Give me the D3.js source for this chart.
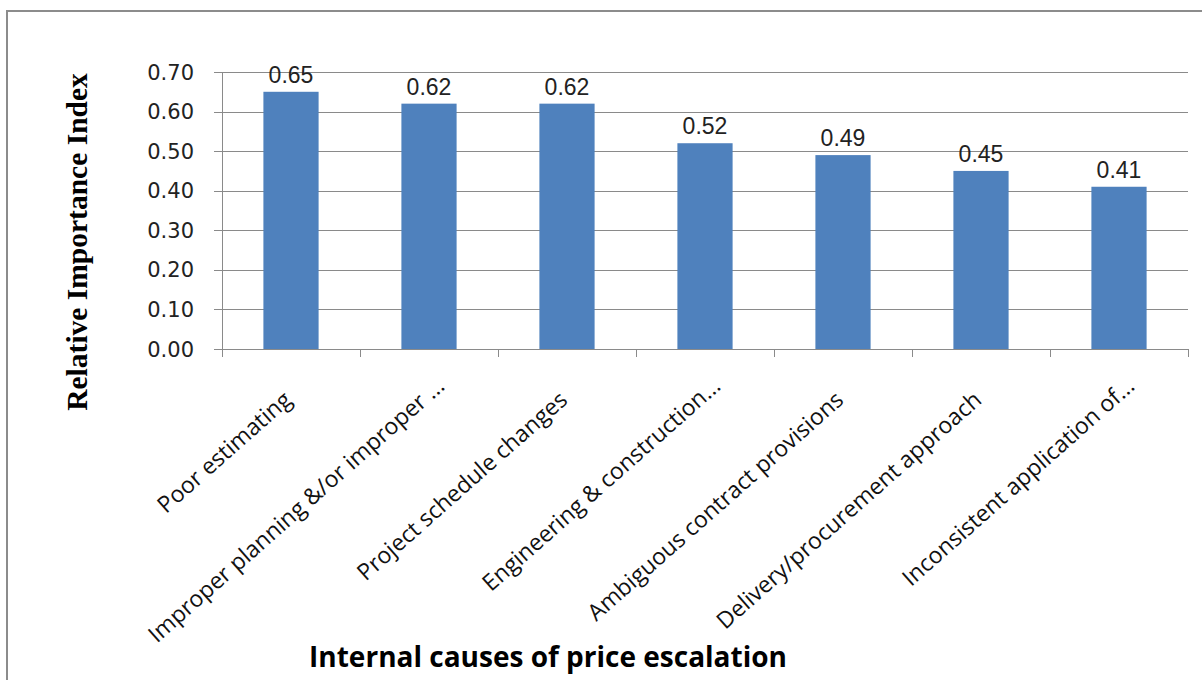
<!DOCTYPE html>
<html>
<head>
<meta charset="utf-8">
<script src="https://cdn.jsdelivr.net/npm/d3@7"></script>
<style>
  body { margin: 0; background: #fff; }
</style>
</head>
<body>
<div id="chart"></div>
<script>
var categories = [
  'Poor estimating',
  'Improper planning &/or improper ...',
  'Project schedule changes',
  'Engineering & construction...',
  'Ambiguous contract provisions',
  'Delivery/procurement approach',
  'Inconsistent application of...'
];
var values = [0.65, 0.62, 0.62, 0.52, 0.49, 0.45, 0.41];
var yTicks = [0, 0.1, 0.2, 0.3, 0.4, 0.5, 0.6, 0.7];

var w = 1202, h = 680;
var plotLeft = 222, plotRight = 1188, plotTop = 72, plotBottom = 349;

var svg = d3.select('#chart')
  .append('svg')
  .attr('width', w)
  .attr('height', h);

// outer frame
svg.append('rect')
  .attr('x', 7).attr('y', 11)
  .attr('width', 1210).attr('height', 700)
  .attr('fill', 'none')
  .attr('stroke', '#8c8c8c')
  .attr('stroke-width', 2);

var x = d3.scaleBand()
  .domain(categories)
  .range([plotLeft, plotRight])
  .paddingInner(0.6)
  .paddingOuter(0.3);

var y = d3.scaleLinear()
  .domain([0, 0.7])
  .range([plotBottom, plotTop]);

// gridlines
svg.append('g')
  .selectAll('line')
  .data(yTicks)
  .enter()
  .append('line')
  .attr('x1', plotLeft - 8)
  .attr('x2', plotRight)
  .attr('y1', function(d) { return Math.round(y(d)) + 0.5; })
  .attr('y2', function(d) { return Math.round(y(d)) + 0.5; })
  .attr('stroke', '#8a8a8a')
  .attr('stroke-width', 1);

// y tick labels
svg.append('g')
  .selectAll('text')
  .data(yTicks)
  .enter()
  .append('text')
  .text(function(d) { return d.toFixed(2); })
  .attr('x', 194)
  .attr('y', function(d) { return y(d); })
  .attr('dy', '0.36em')
  .attr('text-anchor', 'end')
  .attr('font-family', 'DejaVu Sans, Verdana, sans-serif')
  .attr('font-size', '21px')
  .attr('fill', '#222');

// bars
svg.append('g')
  .selectAll('rect')
  .data(values)
  .enter()
  .append('rect')
  .attr('x', function(d, i) { return x(categories[i]); })
  .attr('y', function(d) { return y(d); })
  .attr('width', x.bandwidth())
  .attr('height', function(d) { return plotBottom - y(d); })
  .attr('fill', '#4f81bd');

// axis lines
svg.append('line')
  .attr('x1', plotLeft + 0.5).attr('x2', plotLeft + 0.5)
  .attr('y1', plotTop).attr('y2', plotBottom)
  .attr('stroke', '#8a8a8a');
svg.append('line')
  .attr('x1', plotLeft).attr('x2', plotRight)
  .attr('y1', plotBottom + 0.5).attr('y2', plotBottom + 0.5)
  .attr('stroke', '#8a8a8a');

// category ticks
var step = (plotRight - plotLeft) / categories.length;
svg.append('g')
  .selectAll('line')
  .data(d3.range(categories.length + 1))
  .enter()
  .append('line')
  .attr('x1', function(d) { return Math.round(plotLeft + d * step) + 0.5; })
  .attr('x2', function(d) { return Math.round(plotLeft + d * step) + 0.5; })
  .attr('y1', plotBottom)
  .attr('y2', plotBottom + 8)
  .attr('stroke', '#8a8a8a');

// value labels
svg.append('g')
  .selectAll('text')
  .data(values)
  .enter()
  .append('text')
  .text(function(d) { return d.toFixed(2); })
  .attr('x', function(d, i) { return x(categories[i]) + x.bandwidth() / 2; })
  .attr('y', function(d) { return y(d) - 9; })
  .attr('text-anchor', 'middle')
  .attr('font-family', 'Liberation Sans, Arial, sans-serif')
  .attr('font-size', '23px')
  .attr('fill', '#222');

// category labels (truncated ones sit a bit further along the slant)
svg.append('g')
  .selectAll('text')
  .data(categories)
  .enter()
  .append('text')
  .text(function(d) { return d; })
  .attr('text-anchor', 'end')
  .attr('transform', function(d) {
    var cx = x(d) + x.bandwidth() / 2;
    var trunc = /\.\.\.$/.test(d);
    var dx = trunc ? 17 : 2;
    var dy = trunc ? 39 : 53;
    return 'translate(' + (cx + dx) + ',' + (plotBottom + dy) + ') rotate(-41.5)';
  })
  .attr('font-family', 'Open Sans, Noto Sans, sans-serif')
  .attr('font-size', '23px')
  .attr('fill', '#111');

// axis titles
svg.append('text')
  .text('Internal causes of price escalation')
  .attr('x', 548)
  .attr('y', 667)
  .attr('text-anchor', 'middle')
  .attr('font-family', 'Open Sans, Noto Sans, sans-serif')
  .attr('font-weight', 'bold')
  .attr('font-size', '28px')
  .attr('fill', '#000');

svg.append('text')
  .text('Relative Importance Index')
  .attr('transform', 'translate(87,242) rotate(-90)')
  .attr('text-anchor', 'middle')
  .attr('font-family', 'Liberation Serif, Times New Roman, serif')
  .attr('font-weight', 'bold')
  .attr('font-size', '29.5px')
  .attr('fill', '#000');
</script>
</body>
</html>
